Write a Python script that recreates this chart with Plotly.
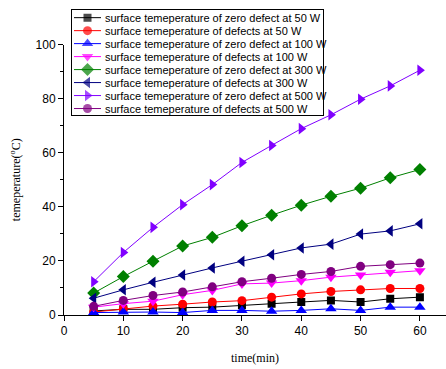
import plotly.graph_objects as go

# ---- data ----
time_min = [5, 10, 15, 20, 25, 30, 35, 40, 45, 50, 55, 60]

zero_50 = [1.5, 2.1, 2.1, 2.7, 2.9, 3.6, 4.2, 4.8, 5.4, 4.8, 6.0, 6.6]
def_50 = [1.1, 2.3, 3.3, 4.0, 4.8, 5.3, 6.6, 7.8, 8.7, 9.3, 9.8, 9.8]
zero_100 = [0.9, 1.1, 1.1, 0.9, 1.7, 1.7, 1.4, 1.7, 2.3, 1.7, 2.9, 2.9]
def_100 = [2.9, 4.2, 5.1, 7.5, 9.1, 11.5, 11.8, 12.7, 14.0, 14.8, 15.8, 16.4]
zero_300 = [8.1, 14.2, 19.9, 25.5, 28.7, 33.0, 36.9, 40.6, 43.9, 46.9, 50.7, 53.8]
def_300 = [6.2, 9.3, 12.1, 14.8, 17.4, 19.9, 22.3, 24.8, 26.2, 29.9, 31.1, 33.7]
zero_500 = [12.3, 23.1, 32.4, 40.8, 48.2, 56.4, 62.7, 68.9, 74.0, 79.8, 84.7, 90.5]
def_500 = [3.2, 5.4, 7.2, 8.5, 10.4, 12.3, 13.6, 15.0, 16.1, 18.0, 18.6, 19.2]

series_names = [
    "surface temeperature of zero defect at 50 W",
    "surface temeperature of defects at 50 W",
    "surface temeperature of zero defect at 100 W",
    "surface temeperature of defects at 100 W",
    "surface temeperature of zero defect at 300 W",
    "surface temeperature of defects at 300 W",
    "surface temeperature of zero defect at 500 W",
    "surface temeperature of defects at 500 W",
]
series_values = [zero_50, def_50, zero_100, def_100, zero_300, def_300, zero_500, def_500]
series_colors = ["#000000", "#FF0000", "#0000FF", "#FF00FF", "#008000", "#000080", "#8000FF", "#800080"]
series_symbols = ["square", "circle", "triangle-up", "triangle-down", "diamond",
                  "triangle-left", "triangle-right", "circle"]
series_sizes = [8, 9, 10, 10, 10, 10, 10, 9]

x_ticks = [0, 10, 20, 30, 40, 50, 60]
y_ticks = [0, 20, 40, 60, 80, 100]

SANS = "Arial"
SERIF = "Times New Roman"

W, H = 446, 369
ML, MR, MT, MB = 64, 0, 3, 54
plot_h = H - MT - MB
plot_w = W - ML - MR

fig = go.Figure()

for name, vals, col, sym, sz in zip(series_names, series_values, series_colors, series_symbols, series_sizes):
    fig.add_trace(go.Scatter(
        x=time_min, y=vals, mode="lines+markers", name=name,
        line=dict(color=col, width=1),
        marker=dict(color=col, symbol=sym, size=sz, line=dict(width=0)),
        showlegend=False, xaxis="x", yaxis="y"))

# ---- custom legend on an overlay axis pair (pixel-like units) ----
leg_left_px, leg_right_px, leg_top_px, leg_bot_px = 72, 323, 6, 112
leg_w = leg_right_px - leg_left_px
leg_h = leg_bot_px - leg_top_px
row0, row_step = 7.8, 13.15
sample_x0, sample_x1 = 2, 29
text_x = 31

for i, (name, col, sym, sz) in enumerate(zip(series_names, series_colors, series_symbols, series_sizes)):
    ry = row0 + i * row_step
    fig.add_trace(go.Scatter(
        x=[sample_x0, (sample_x0 + sample_x1) / 2, sample_x1], y=[ry, ry, ry],
        mode="lines+markers", line=dict(color=col, width=1),
        marker=dict(color=col, symbol=sym, size=[0, sz, 0], line=dict(width=0)),
        showlegend=False, hoverinfo="skip", xaxis="x2", yaxis="y2"))
    fig.add_annotation(x=text_x, y=ry, xref="x2", yref="y2", text=name, showarrow=False,
                       xanchor="left", yanchor="middle",
                       font=dict(family=SANS, size=11, color="black"))

main_top_px = 41
fig.update_layout(
    width=W, height=H,
    margin=dict(l=ML, r=MR, t=MT, b=MB),
    paper_bgcolor="white", plot_bgcolor="white",
    font=dict(family=SANS, size=12, color="black"),
    xaxis=dict(
        range=[0, 64.4], tickvals=x_ticks, ticks="outside", ticklen=5, tickwidth=1,
        tickcolor="black", showline=True, linecolor="black", linewidth=1,
        showgrid=False, zeroline=False,
        title=dict(text="time(min)", font=dict(family=SERIF, size=12), standoff=16),
        tickfont=dict(family=SANS, size=12), anchor="y"),
    yaxis=dict(
        range=[0, 100], tickvals=y_ticks, ticks="outside", ticklen=5, tickwidth=1,
        tickcolor="black", showline=True, linecolor="black", linewidth=1,
        showgrid=False, zeroline=False,
        domain=[0, (H - MB - main_top_px) / plot_h],
        minor=dict(dtick=10, tick0=0, ticks="outside", ticklen=3, tickcolor="black", showgrid=False),
        title=dict(text="temeperature(<sup>o</sup>C)", font=dict(family=SERIF, size=12), standoff=12),
        tickfont=dict(family=SANS, size=12), anchor="x"),
    xaxis2=dict(
        domain=[(leg_left_px - ML) / plot_w, (leg_right_px - ML) / plot_w],
        range=[0, leg_w], showline=True, mirror=True, linecolor="black", linewidth=1,
        showgrid=False, zeroline=False, showticklabels=False, ticks="", anchor="y2", fixedrange=True),
    yaxis2=dict(
        domain=[(H - MB - leg_bot_px) / plot_h, (H - MB - leg_top_px) / plot_h],
        range=[leg_h, 0], showline=True, mirror=True, linecolor="black", linewidth=1,
        showgrid=False, zeroline=False, showticklabels=False, ticks="", anchor="x2", fixedrange=True),
)

fig.write_html("out.html")
